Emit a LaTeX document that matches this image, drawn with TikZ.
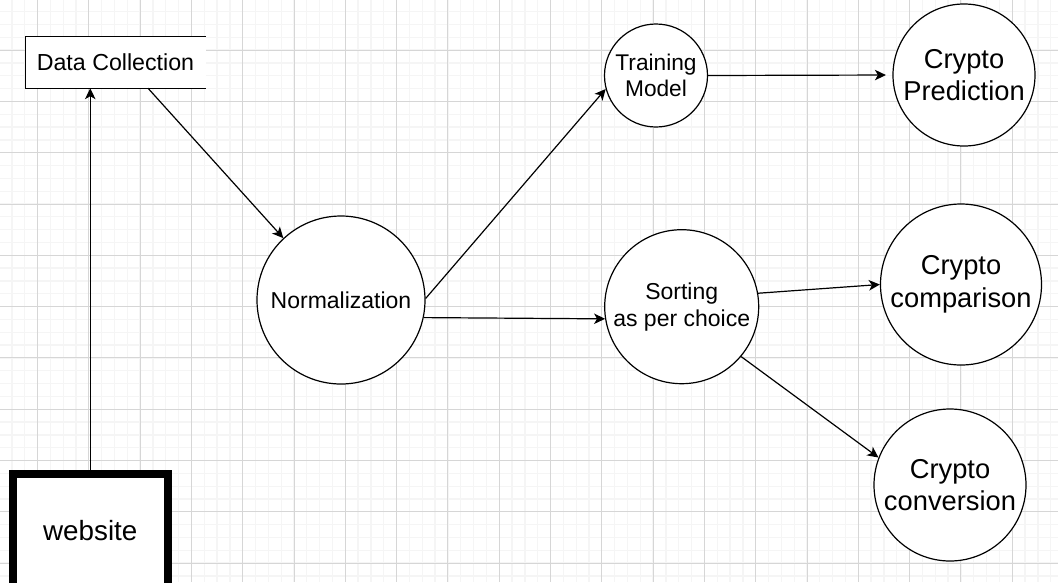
\documentclass[tikz,border=0pt]{standalone}
\usepackage{fontspec}
\setmainfont{Liberation Sans}
\usetikzlibrary{arrows.meta}
\begin{document}
\begin{tikzpicture}[x=1pt,y=-1pt,
		minorline/.style={color=black!4,line width=1.3pt},
		majorline/.style={color=black!16,line width=1pt},
		box/.style={fill=white,minimum width=180pt,minimum height=51pt,inner sep=0pt,font=\fontsize{23.2}{26}\selectfont},
		site/.style={draw,fill=white,line width=8pt,minimum width=154.5pt,minimum height=114pt,inner sep=0pt,font=\fontsize{27.8}{30}\selectfont},
		stage/.style={circle,draw,fill=white,line width=1.2pt,inner sep=0pt,align=center,font=\fontsize{23}{26}\selectfont},
		result/.style={stage,font=\fontsize{27.3}{32.5}\selectfont},
		flow/.style={line width=1.2pt,-{Stealth[length=11pt,width=10.5pt,inset=3pt]}}]
			\def\step{51.3}
			\def\fine{12.825}
			\useasboundingbox (0,0) rectangle (1058,582);
			\clip (0,0) rectangle (1058,582);
			\fill[white] (0,0) rectangle (1058,582);
			% grid
			\foreach \i in {-3,...,80}
				\draw[minorline] ({37.5+\i*\fine},0) -- ++(0,582);
			\foreach \i in {0,...,46}
				\draw[minorline] (0,{-1.2+\i*\fine}) -- ++(1058,0);
			\foreach \i in {-1,...,20}
				\draw[majorline] ({37.5+\i*\step},0) -- ++(0,582);
			\foreach \i in {0,...,12}
				\draw[majorline] (0,{-1.2+\i*\step}) -- ++(1058,0);
			% source and collection
			\node[site] (web) at (90.25,531) {website};
			\node[box] (dc) at (115.5,62.5) {Data Collection};
			\draw[line width=1.2pt] (dc.north east) -- (dc.north west) -- (dc.south west) -- (dc.south east);
			% processing
			\node[stage,minimum size=168pt] (norm) at (341,300) {Normalization};
			\node[stage,minimum size=103pt,font=\fontsize{22.7}{25.6}\selectfont] (train) at (656,75.5) {Training\\Model};
			\node[stage,minimum size=154pt,font=\fontsize{23}{27}\selectfont] (sort) at (681.7,306.7) {Sorting\\as per choice};
			% results
			\node[result,minimum size=142pt] (pred) at (964,75) {Crypto\\Prediction};
			\node[result,minimum size=161pt] (comp) at (961,284.5) {Crypto\\comparison};
			\node[result,minimum size=152pt] (conv) at (950,485) {Crypto\\conversion};
			% arrows
			\draw[flow] (web.north) -- (web.north |- dc.south);
			\draw[flow] ([xshift=32.5pt]dc.south) -- (norm.133);
			\draw[flow] (norm.1) -- (train.195);
			\draw[flow] (norm.-12) -- (sort.189);
			\draw[flow,shorten >=6.5pt] (train.east) -- (pred.west);
			\draw[flow] (sort.10) -- (comp.180);
			\draw[flow] (sort.-40) -- (conv.159);
		\end{tikzpicture}
\end{document}
